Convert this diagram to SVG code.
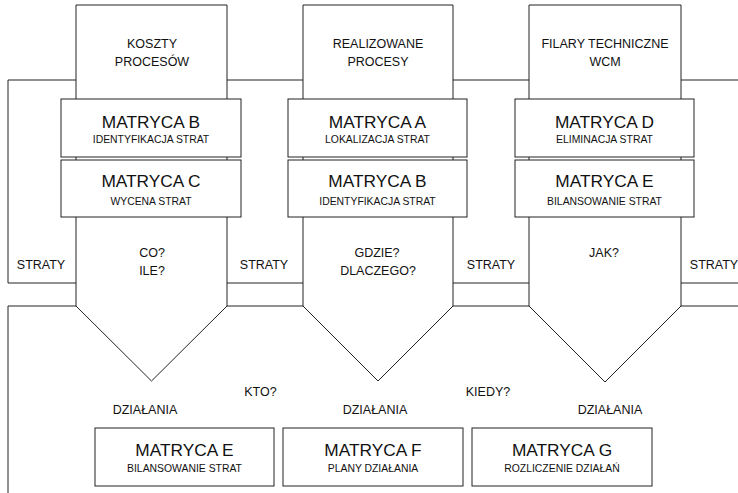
<svg xmlns="http://www.w3.org/2000/svg" width="738" height="493" viewBox="0 0 738 493">
<style>
.ln{fill:none;stroke:#222;stroke-width:1}
.col{fill:#fff;stroke:#222;stroke-width:1}
.box{fill:#fff;stroke:#222;stroke-width:1}
text{font-family:"Liberation Sans",Arial,sans-serif;fill:#111;text-anchor:middle}
.t{font-size:17.3px}
.s{font-size:10.4px}
.l{font-size:12.5px}
</style>
<rect width="738" height="493" fill="#fff"/>
<g id="connectors">
<path class="ln" d="M8,80H76M227,80H303M453,80H529M681,80H738"/>
<path class="ln" d="M8,283H76M227,283H303M453,283H529M681,283H738"/>
<path class="ln" d="M8,306H76M227,306H303M453,306H529M681,306H738"/>
<path class="ln" d="M8,80V283M8,306V493"/>
</g>
<g id="col1">
<polygon class="col" points="76,5 227,5 227,306 151.5,381 76,306"/>
<text class="l" x="152" y="48">KOSZTY</text>
<text class="l" x="152" y="66">PROCESÓW</text>
<text class="l" x="152" y="257">CO?</text>
<text class="l" x="152" y="275">ILE?</text>
</g>
<g id="col2">
<polygon class="col" points="303,5 453,5 453,306 378,381 303,306"/>
<text class="l" x="378" y="48">REALIZOWANE</text>
<text class="l" x="378" y="66">PROCESY</text>
<text class="l" x="377" y="257">GDZIE?</text>
<text class="l" x="378" y="275">DLACZEGO?</text>
</g>
<g id="col3">
<polygon class="col" points="529,5 681,5 681,306 605,382 529,306"/>
<text class="l" x="605" y="48">FILARY TECHNICZNE</text>
<text class="l" x="605" y="66">WCM</text>
<text class="l" x="604" y="257">JAK?</text>
</g>
<g id="m1b">
<rect class="box" x="61" y="99" width="180" height="58"/>
<text class="t" x="151" y="128">MATRYCA B</text>
<text class="s" x="151" y="143">IDENTYFIKACJA STRAT</text>
</g>
<g id="m1c">
<rect class="box" x="61" y="160" width="180" height="57"/>
<text class="t" x="151" y="187">MATRYCA C</text>
<text class="s" x="151" y="205">WYCENA STRAT</text>
</g>
<g id="m2a">
<rect class="box" x="288" y="99" width="179" height="58"/>
<text class="t" x="377.5" y="128">MATRYCA A</text>
<text class="s" x="377.5" y="143">LOKALIZACJA STRAT</text>
</g>
<g id="m2b">
<rect class="box" x="288" y="160" width="179" height="57"/>
<text class="t" x="377.5" y="187">MATRYCA B</text>
<text class="s" x="377.5" y="205">IDENTYFIKACJA STRAT</text>
</g>
<g id="m3d">
<rect class="box" x="515" y="99" width="179" height="58"/>
<text class="t" x="604.5" y="128">MATRYCA D</text>
<text class="s" x="604.5" y="143">ELIMINACJA STRAT</text>
</g>
<g id="m3e">
<rect class="box" x="515" y="160" width="179" height="57"/>
<text class="t" x="604.5" y="187">MATRYCA E</text>
<text class="s" x="604.5" y="205">BILANSOWANIE STRAT</text>
</g>
<g id="straty">
<text class="l" x="41" y="269">STRATY</text>
<text class="l" x="264" y="269">STRATY</text>
<text class="l" x="491" y="269">STRATY</text>
<text class="l" x="714" y="269">STRATY</text>
</g>
<g id="labels">
<text class="l" x="260.5" y="396">KTO?</text>
<text class="l" x="488" y="396">KIEDY?</text>
<text class="l" x="145" y="414">DZIAŁANIA</text>
<text class="l" x="375" y="414">DZIAŁANIA</text>
<text class="l" x="610" y="414">DZIAŁANIA</text>
</g>
<g id="m4e">
<rect class="box" x="95" y="428" width="179" height="58"/>
<text class="t" x="184.5" y="456">MATRYCA E</text>
<text class="s" x="184.5" y="472">BILANSOWANIE STRAT</text>
</g>
<g id="m4f">
<rect class="box" x="283" y="428" width="180" height="58"/>
<text class="t" x="373" y="456">MATRYCA F</text>
<text class="s" x="373" y="472">PLANY DZIAŁANIA</text>
</g>
<g id="m4g">
<rect class="box" x="472" y="428" width="180" height="58"/>
<text class="t" x="562" y="456">MATRYCA G</text>
<text class="s" x="562" y="472">ROZLICZENIE DZIAŁAŃ</text>
</g>
</svg>
